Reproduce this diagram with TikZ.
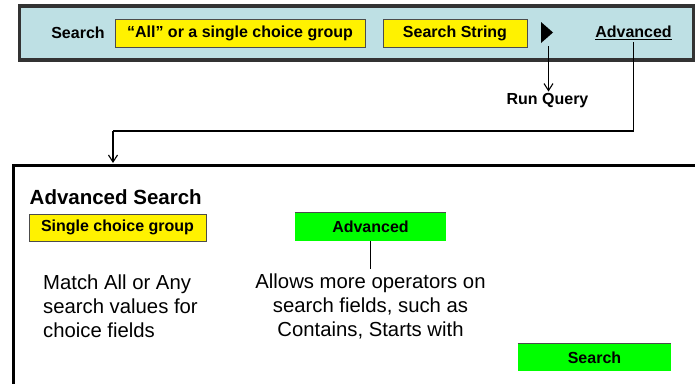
\documentclass[tikz,border=0pt]{standalone}
\usepackage{fontspec}
\setmainfont{Liberation Sans}
\usetikzlibrary{arrows.meta}
\definecolor{panelblue}{RGB}{190,224,228}
\definecolor{btngreen}{RGB}{0,255,0}

\begin{document}
\begin{tikzpicture}[x=1pt,y=-1pt,
  lbl/.style={font=\bfseries\fontsize{16}{19}\selectfont, inner sep=2},
  body/.style={font=\fontsize{20.3}{24}\selectfont, inner sep=4},
  ybox/.style={lbl, draw=black!70, fill=yellow, line width=0.8, inner sep=0},
  gbox/.style={lbl, fill=btngreen, inner sep=0},
  arr/.style={-{Straight Barb[length=7pt,width=9pt]}, line width=1.1}]
\clip (0,0) rectangle (695,383);
\fill[white] (0,0) rectangle (695,383);

% search bar
\draw[fill=panelblue, draw=black!80, line width=3.5] (19.5,6) rectangle (694,60);
\node[lbl] (srch) at (78,33) {Search};
\node[ybox, minimum width=250, minimum height=28] (group) at (240,33) {“All” or a single choice group};
\node[ybox, minimum width=144, minimum height=28] (string) at (455,33) {Search String};
\fill (541,22) -- (553,32.5) -- (541,43) -- cycle;
\coordinate (play) at (548.5,46);
\node[lbl] (adv) at (633.5,33) {\underline{Advanced}};

\node[lbl] (runq) at (547.5,101) {Run Query};
\draw[arr] (play) -- (play |- runq.north);

% advanced panel
\coordinate (elbow) at (113,131);
\coordinate (drop) at (113,163);
\draw[line width=1.1] (adv.south) |- (elbow);
\draw[arr] (elbow) -- (drop);
\draw[line width=3] (700,165) -- (13.5,165) -- (13.5,390);

\node[font=\bfseries\fontsize{20.5}{24}\selectfont, anchor=west, inner sep=0] (title) at (29.5,197) {Advanced Search};
\node[ybox, minimum width=177, minimum height=27] (single) at (117.5,227.5) {Single choice group};
\node[gbox, minimum width=151, minimum height=28] (advbtn) at (370.5,227) {Advanced};
\draw[black!70, line width=0.8] (advbtn.north west) -- (advbtn.north east);

\node[body, align=left, anchor=west] (match) at (39,306) {Match All or Any\\search values for\\choice fields};
\node[body, align=center] (allows) at (370.5,306) {Allows more operators on\\search fields, such as\\Contains, Starts with};
\draw[line width=1.1] (advbtn.south) -- (allows.north);

\node[gbox, minimum width=153, minimum height=27] (go) at (594.5,357.5) {Search};
\draw[black!70, line width=0.8] (go.north west) -- (go.north east);
\end{tikzpicture}
\end{document}
